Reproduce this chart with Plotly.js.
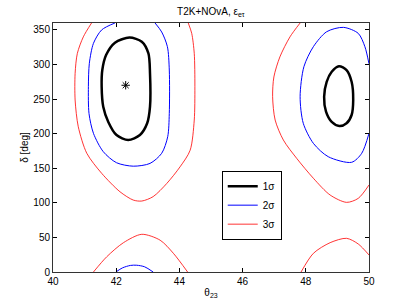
<!DOCTYPE html>
<html>
<head>
<meta charset="utf-8">
<script src="https://cdn.plot.ly/plotly-3.0.1.min.js"></script>
<style>html,body{margin:0;padding:0;background:#fff;}#plot{width:407px;height:306px;}</style>
</head>
<body>
<div id="plot"></div>
<script>
// 1 sigma contours
const s1LeftX = [42.42,42.81,43.02,43.07,43.07,42.98,42.75,42.38,42.01,41.75,41.59,41.54,41.56,41.68,41.96,42.42];
const s1LeftY = [339,333,316,287,239,215,198,190.8,198,217,239,268,292,313.7,331.6,339];
const s1RightX = [49.05,49.29,49.45,49.50,49.45,49.29,49.06,48.82,48.64,48.58,48.66,48.82,49.05];
const s1RightY = [297.5,292,275,248.7,227,215,211,217,231.8,253.5,275,289.6,297.5];
// 2 sigma contours
const s2LeftX = [41.96,41.54,41.28,41.15,41.12,41.14,41.28,41.59,42.01,42.54,43.07,43.44,43.63,43.68,43.68,43.62,43.44,43.23];
const s2LeftY = [360,350,330.6,301.7,268,229,200.5,174,158,153,157,171.6,195.6,229,292,325.8,347,360];
const s2RightX = [50,49.87,49.66,49.19,48.66,48.24,47.94,47.82,47.92,48.24,48.71,49.45,49.77,50];
const s2RightY = [301,325.8,345,353.7,347.4,325.8,296.8,253.5,215,186,166.7,158.6,171.6,200.5];
const s2BottomX = [41.99,42.2,42.45,42.65,42.9,43.17];
const s2BottomY = [0,6,9.5,9.8,7.5,0];
// 3 sigma contours
const s3LeftX = [41.22,40.96,40.77,40.70,40.70,40.80,41.07,41.54,42.12,42.54,42.81,43.17,43.60,44.02,44.34,44.47,44.49,44.47,44.39,44.28];
const s3LeftY = [360,340,316,287,248.7,210,171.6,142.7,116,104,102.6,109,128,152,176,219.7,268,316,345,360];
const s3RightX = [47.82,47.50,47.18,46.99,46.95,47.03,47.29,47.71,48.24,48.77,49.29,49.66,50];
const s3RightY = [360,340,311,282,253.5,219.7,190.8,164.4,135.5,111.3,100.7,106.5,125.8];
const s3BotLeftX = [41.28,41.70,42.23,42.81,43.39,43.81,44.26];
const s3BotLeftY = [0,22,42.4,54.5,46,27,0];
const s3BotRightX = [47.85,48.24,48.77,49.29,49.66,50];
const s3BotRightY = [0,27,42.4,48.7,40.5,24.6];
// best fit
const bestX = [42.3];
const bestY = [270];

const xTicks = [40,42,44,46,48,50];
const yTicks = [0,50,100,150,200,250,300,350];

function line(x, y, color, width, name, show) {
  return {x: x, y: y, type: 'scatter', mode: 'lines', line: {color: color, width: width, shape: 'spline', smoothing: 0.8},
          name: name, legendgroup: name, showlegend: show, hoverinfo: 'skip'};
}
const traces = [
  line(s1LeftX, s1LeftY, '#000000', 2.5, '1σ', true),
  line(s1RightX, s1RightY, '#000000', 2.5, '1σ', false),
  line(s2LeftX, s2LeftY, '#0000ff', 1, '2σ', true),
  line(s2RightX, s2RightY, '#0000ff', 1, '2σ', false),
  line(s2BottomX, s2BottomY, '#0000ff', 1, '2σ', false),
  line(s3LeftX, s3LeftY, '#ff0000', 0.8, '3σ', true),
  line(s3RightX, s3RightY, '#ff0000', 0.8, '3σ', false),
  line(s3BotLeftX, s3BotLeftY, '#ff0000', 0.8, '3σ', false),
  line(s3BotRightX, s3BotRightY, '#ff0000', 0.8, '3σ', false),
  {x: bestX, y: bestY, type: 'scatter', mode: 'markers', marker: {symbol: 'asterisk-open', size: 7, color: '#000', line: {color: '#000', width: 1}}, showlegend: false, hoverinfo: 'skip'}
];

const font = {family: 'Liberation Sans, Arial, sans-serif', size: 10, color: '#000'};
const layout = {
  width: 407, height: 306,
  margin: {l: 53, r: 38, t: 23, b: 34},
  paper_bgcolor: '#fff', plot_bgcolor: '#fff',
  font: font,
  title: {text: 'T2K+NOvA, ε<sub>eτ</sub>', font: {family: font.family, size: 10, color: '#000'}, x: 0.518, xanchor: 'center', y: 0.975, yanchor: 'top'},
  xaxis: {range: [40, 50], tickvals: xTicks, ticktext: xTicks.map(String), ticks: 'inside', ticklen: 4, tickcolor: '#000',
          showline: true, linecolor: '#333', linewidth: 1, mirror: 'ticks', showgrid: false, zeroline: false,
          title: {text: 'θ<sub>23</sub>', font: {size: 10}, standoff: 2}},
  yaxis: {range: [0, 360], tickvals: yTicks, ticktext: yTicks.map(String), ticks: 'inside', ticklen: 4, tickcolor: '#000',
          showline: true, linecolor: '#333', linewidth: 1, mirror: 'ticks', showgrid: false, zeroline: false,
          title: {text: 'δ [deg]', font: {size: 10}, standoff: 2}},
  legend: {x: 0.534, y: 0.407, xanchor: 'left', yanchor: 'top', bgcolor: '#fff', bordercolor: '#000', borderwidth: 1,
           font: {size: 10}, tracegroupgap: 0},
  showlegend: true
};
Plotly.newPlot('plot', traces, layout, {staticPlot: true});
</script>
</body>
</html>
